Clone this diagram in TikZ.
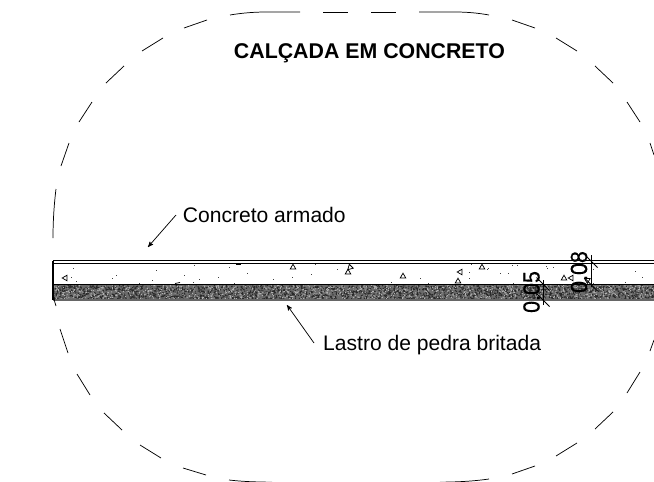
\documentclass[tikz,border=0pt]{standalone}
\usepackage{graphicx}
\usepackage{fontspec}
\setmainfont{Liberation Sans}
\newfontfamily\dimfont[FakeBold=0.5]{Liberation Sans}
\usetikzlibrary{arrows}

\begin{document}
\begin{tikzpicture}[x=0.75pt,y=-0.75pt,>=stealth',
                label node/.style={font=\fontsize{15.8}{18}\selectfont,inner sep=5pt,anchor=west,
                                   text height=11.5pt,text depth=1pt},
                title node/.style={font=\fontsize{16}{18}\selectfont\bfseries,inner sep=0pt},
                dim node/.style={font=\dimfont\fontsize{17.5}{20}\selectfont,inner sep=0pt,rotate=90},
                detail/.style={line width=0.55pt},
                slab line/.style={line width=0.8pt},
                leader/.style={->,line width=0.55pt}]
  \useasboundingbox (0,0) rectangle (654,482);
  \pgfmathsetseed{4711}

  % gravel layer
  \fill[black!58] (53,284.5) rectangle (654,300);
  \fill[black!84] \foreach \i in {1,...,2800} {
    (53+601*rnd,285+14.5*rnd) rectangle ++(1.1,1.1)
  };
  \fill[black!30] \foreach \i in {1,...,1300} {
    (53+601*rnd,285+14.5*rnd) rectangle ++(1,1)
  };

  % slab outlines
  \draw[slab line] (53,260.5) -- (654,260.5);
  \draw[slab line] (53,263.5) -- (654,263.5);
  \draw[slab line] (53,284.5) -- (654,284.5);
  \draw[slab line,black!60] (53,300) -- (654,300);
  \draw[slab line] (53,260.5) -- (53,300);

  % aggregate in the concrete
  \foreach \px/\py/\pa in {65/278/90,293/267/0,350/267/15,348/272/0,403/276/0,
                           460/272/90,458/281/0,482/267/0,564/278/0,571/278/90,587/280/60}
    \draw[detail,shift={(\px,\py)},rotate=\pa] (-2.8,2) -- (2.8,2) -- (0,-2.8) -- cycle;
  \foreach \px/\py in {73/268,76/281,71/277,112/278,116/275,156/270,152/280,139/283,
                       184/275,194/265,199/279,193/282,218/277,229/267,247/273,234/283,
                       273/279,292/277,315/264,311/274,337/269,391/282,420/278,428/283,
                       469/272,469/278,471/264,488/268,487/269,512/265,517/265,500/273,
                       508/273,546/266,547/268,553/267,593/269,593/283,625/282,635/271,
                       642/277,513/283}
    \fill[black!75] (\px,\py) rectangle ++(1.1,1.1);
  \draw[detail] (175,283.5) -- (180,282.5);
  \draw[detail] (236,264) -- (241,264);

  % detail circle, dashed by hand
  \draw[detail] (230,15) .. controls (242,13) and (254,12) .. (266,12) -- (300,12);
  \draw[detail] (419,12) -- (455,12) .. controls (467,12) and (478,13) .. (489,15);
  \draw[detail] (229,480) .. controls (242,481.5) and (254,482) .. (272,482.2);
  \draw[detail] (440,482.2) .. controls (460,482) and (475,481) .. (489,479);
  \draw[detail] (56,189) .. controls (54,205) and (53,222) .. (53,238);
  \draw[detail] (54,297) .. controls (54,300) and (55,303) .. (56,306);
  \foreach \ax/\ay/\bx/\by in {323/12/348/12,371/12/396/12,512/20/535/28,556/38/577/51,
                               595/66/613/83,627/102/640/122,650/143/654/155,
                               184/28/207/20,142/51/163/38,106/83/124/66,79/122/92/102,
                               61/166/69/143,60/329/68/353,77/374/90/395,104/413/122/430,
                               140/445/161/458,183/468/206/475,
                               296/482.2/320/482.2,344/482.2/368/482.2,392/482.2/417/482.2,
                               512/474/535/466,556/456/577/443,595/429/613/412,
                               627/393/640/372,650/351/654/340}
    \draw[detail] (\ax,\ay) -- (\bx,\by);

  % texts
  \node[title node] (title) at (369.5,53.5) {CALÇADA EM CONCRETO};
  \node[label node] (concrete) at (176,215) {Concreto armado};
  \node[label node,inner sep=6.7pt] (lastro) at (314,343) {Lastro de pedra britada};
  \coordinate (concrete tip) at (148,247);
  \coordinate (lastro tip) at (287,305);
  \draw[leader] (concrete.west) -- (concrete tip);
  \draw[leader] (lastro.west) -- (lastro tip);

  % dimensions
  \node[dim node] (dim lastro) at (531.5,292) {\scalebox{0.92}[1]{0.05}};
  \node[dim node] (dim concrete) at (579,272) {\scalebox{0.92}[1]{0.08}};
  \foreach \dx/\dya/\dyb/\n in {543/280/305/a,591/255/287/b} {
    \coordinate (\n1) at (\dx,\dya);
    \coordinate (\n2) at (\dx,\dyb);
    \draw[detail] (\n1) -- (\n2);
  }
  \foreach \tx/\ty in {543/284,543/300,591/261,591/284.5}
    \draw[detail] (\tx-6.5,\ty-6.5) -- (\tx+6.5,\ty+6.5);
\end{tikzpicture}
\end{document}
